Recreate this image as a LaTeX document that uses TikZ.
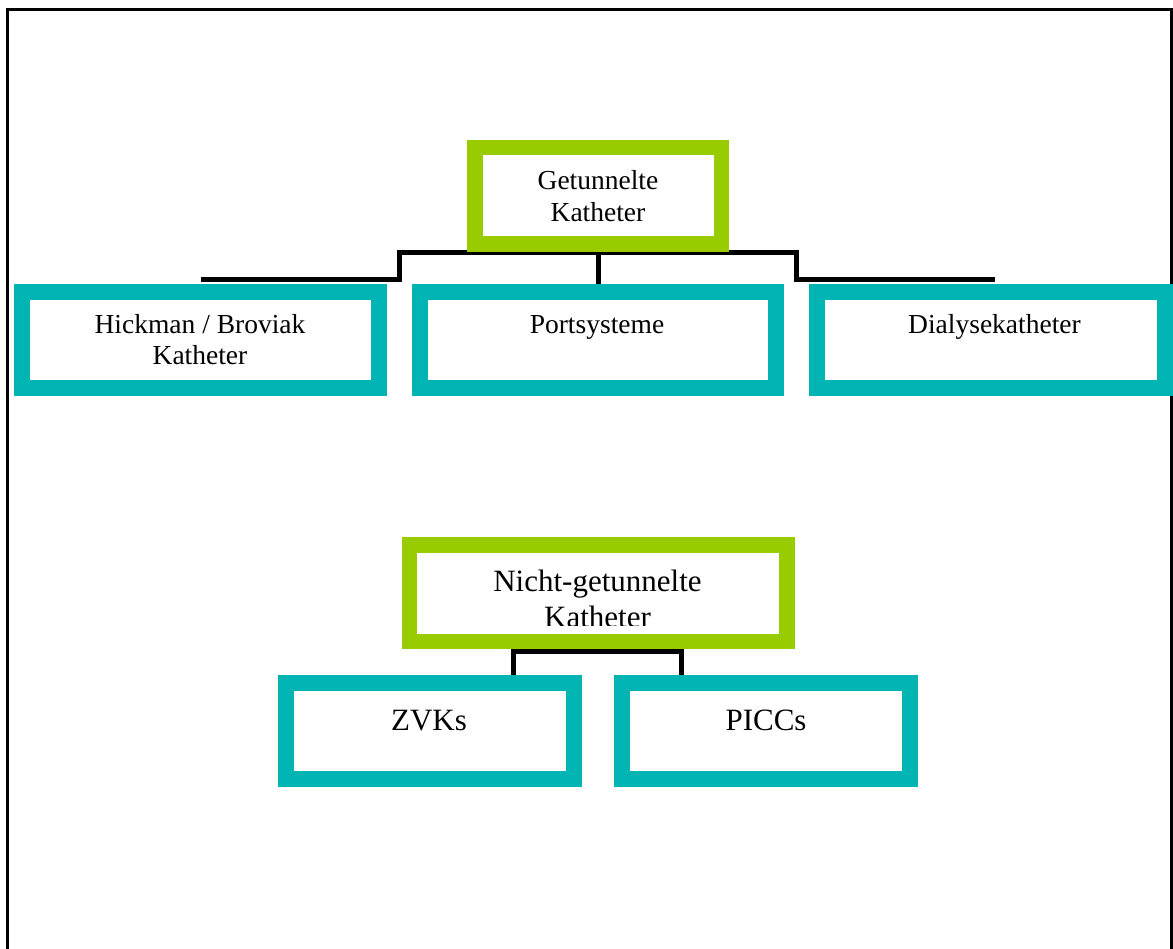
\documentclass[tikz,border=0pt]{standalone}
\usepackage{fontspec}
\setmainfont{Liberation Serif}
\pgfdeclarelayer{background}
\pgfsetlayers{background,main}
\definecolor{kgreen}{RGB}{153,204,0}
\definecolor{kteal}{RGB}{0,180,180}
\tikzset{
  frameline/.style={line width=3pt,black},
  conn/.style={line width=5pt,black,line join=miter},
  headbox/.style={draw=kgreen,line width=15.5pt,fill=white,inner sep=0pt},
  subbox/.style={draw=kteal,line width=16pt,fill=white,inner sep=0pt},
  tsmall/.style={font=\fontsize{27.5}{31.7}\selectfont,align=center,inner sep=0pt,anchor=base},
  tbig/.style={font=\fontsize{31}{35.5}\selectfont,align=center,inner sep=0pt,anchor=base}
}
\begin{document}
\begin{tikzpicture}[x=1pt,y=-1pt]
\useasboundingbox (0,0) rectangle (1173,949);
% coordinates for connector corners
\coordinate (lk) at (399,280);
\coordinate (rk) at (796,280);
\coordinate (bl) at (513.5,651.5);
\coordinate (br) at (681.5,651.5);
% boxes
\node[headbox,minimum width=246.5pt,minimum height=96.5pt] (gt) at (598,196) {};
\node[subbox,minimum width=357pt,minimum height=96pt] (hick) at (200.5,340) {};
\node[subbox,minimum width=356pt,minimum height=96pt] (port) at (598,340) {};
\node[subbox,minimum width=348pt,minimum height=96pt] (dial) at (991,340) {};
\node[headbox,minimum width=377.5pt,minimum height=96.5pt] (ngt) at (598,593) {};
\node[subbox,minimum width=288pt,minimum height=96pt] (zvk) at (430,731) {};
\node[subbox,minimum width=288pt,minimum height=96pt] (picc) at (766,731) {};
% frame and connectors behind the boxes
\begin{pgfonlayer}{background}
\draw[frameline] (7,949) -- (7,10) -- (1171,10) -- (1171,949);
\draw[conn] ([yshift=-1pt]gt.south) -- (port.north);
\draw[conn] ([yshift=-1pt]gt.south) -| (lk) -- ([yshift=4pt]hick.north);
\draw[conn] ([yshift=-1pt]gt.south) -| (rk) -- ([xshift=4pt,yshift=4pt]dial.north);
\draw[conn] ([yshift=-2.5pt]ngt.south) -| (bl |- zvk.north);
\draw[conn] ([yshift=-2.5pt]ngt.south) -| (br |- picc.north);
\end{pgfonlayer}
% texts
\node[tsmall] (gtt) at (598,221.7) {Getunnelte\\Katheter};
\node[tsmall] (hickt) at (200,365) {Hickman / Broviak\\Katheter};
\node[tsmall] (portt) at (597,334) {Portsysteme};
\node[tsmall] (dialt) at (994.5,334) {Dialysekatheter};
\begin{scope}
\clip (401.5,537) rectangle (794.5,625);
\node[tbig] (ngtt) at (597.5,627) {Nicht-getunnelte\\Katheter};
\end{scope}
\node[tbig] (zvkt) at (429,730) {ZVKs};
\node[tbig] (picct) at (766,730) {PICCs};
\end{tikzpicture}
\end{document}
